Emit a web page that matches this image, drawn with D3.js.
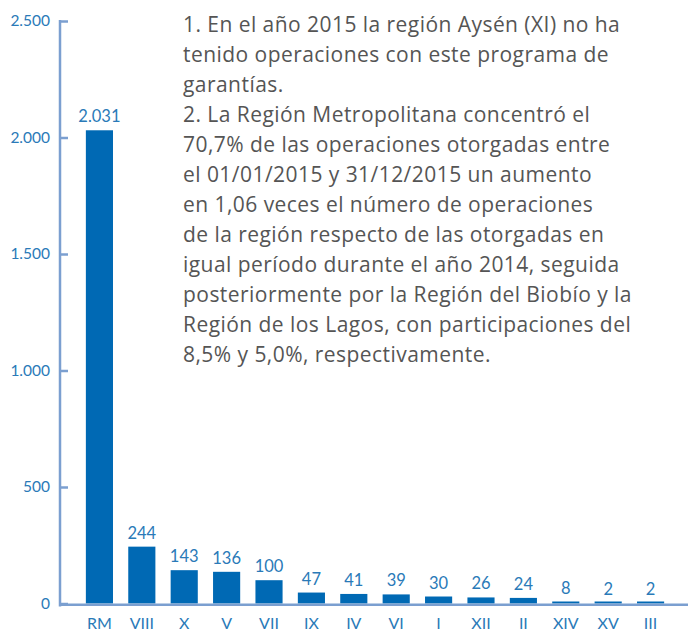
<!DOCTYPE html>
<html>
<head>
<meta charset="utf-8">
<script src="https://cdn.jsdelivr.net/npm/d3@7"></script>
<style>
  body { margin: 0; background: #fff; }
  svg { display: block; font-family: Lato, "Open Sans", sans-serif; }
</style>
</head>
<body>
<div id="chart"></div>
<script>
// Operaciones por región, 2015
const regions = ["RM", "VIII", "X", "V", "VII", "IX", "IV", "VI", "I", "XII", "II", "XIV", "XV", "III"];
const operations = [2031, 244, 143, 136, 100, 47, 41, 39, 30, 26, 24, 8, 2, 2];
const yTicks = [0, 500, 1000, 1500, 2000, 2500];
const noteLines = [
  "1. En el año 2015 la región Aysén (XI) no ha",
  "tenido operaciones con este programa de",
  "garantías.",
  "2. La Región Metropolitana concentró el",
  "70,7% de las operaciones otorgadas entre",
  "el 01/01/2015 y 31/12/2015 un aumento",
  "en 1,06 veces el número de operaciones",
  "de la región respecto de las otorgadas en",
  "igual período durante el año 2014, seguida",
  "posteriormente por la Región del Biobío y la",
  "Región de los Lagos, con participaciones del",
  "8,5% y 5,0%, respectivamente."
];

const width = 688, height = 633;
const barColor = "#0069b4";
const axisColor = "#7b9fd0";
const labelColor = "#2a7ab8";

const es = d3.formatLocale({ decimal: ",", thousands: ".", grouping: [3], currency: ["$", ""] });
const fmt = es.format(",d");

const svg = d3.select("#chart").append("svg")
  .attr("width", width)
  .attr("height", height);

const x0 = 60, yBase = 603.5, yTop = 21;

const x = d3.scaleBand()
  .domain(regions)
  .range([x0, 690])
  .paddingInner(0.36)
  .paddingOuter(0.61);

const y = d3.scaleLinear()
  .domain([0, 2500])
  .range([yBase, yTop]);

// y axis
const yAxis = svg.append("g")
  .attr("transform", `translate(${x0},0)`)
  .call(d3.axisRight(y).tickValues(yTicks).tickSize(8).tickFormat(""));
yAxis.select(".domain").remove();
yAxis.selectAll(".tick line")
  .attr("stroke", axisColor)
  .attr("stroke-width", 2.5);

svg.append("line")
  .attr("x1", x0).attr("x2", x0)
  .attr("y1", y(2500) - 1).attr("y2", yBase + 3)
  .attr("stroke", axisColor)
  .attr("stroke-width", 2.5);

svg.selectAll(".ylab")
  .data(yTicks)
  .join("text")
  .attr("class", "ylab")
  .attr("x", 50)
  .attr("y", d => y(d))
  .attr("dy", "0.35em")
  .attr("text-anchor", "end")
  .attr("fill", labelColor)
  .attr("font-size", 15.5)
  .text(d => fmt(d));

// bars (tiny values still get a visible sliver, as in the original)
svg.selectAll(".bar")
  .data(operations)
  .join("rect")
  .attr("class", "bar")
  .attr("x", (d, i) => x(regions[i]))
  .attr("width", x.bandwidth())
  .attr("y", d => Math.min(y(d), yBase - 2))
  .attr("height", d => Math.max(yBase - y(d), 2))
  .attr("fill", barColor);

// x axis line, just under the bars
svg.append("line")
  .attr("x1", x0).attr("x2", 688)
  .attr("y1", yBase + 1.3).attr("y2", yBase + 1.3)
  .attr("stroke", axisColor)
  .attr("stroke-width", 2.5);

// value labels
svg.selectAll(".val")
  .data(operations)
  .join("text")
  .attr("class", "val")
  .attr("x", (d, i) => x(regions[i]) + x.bandwidth() / 2)
  .attr("y", d => y(d) - 8)
  .attr("text-anchor", "middle")
  .attr("fill", labelColor)
  .attr("font-size", 16.5)
  .text(d => fmt(d));

// category labels
svg.selectAll(".cat")
  .data(regions)
  .join("text")
  .attr("class", "cat")
  .attr("x", d => x(d) + x.bandwidth() / 2)
  .attr("y", 629)
  .attr("text-anchor", "middle")
  .attr("fill", labelColor)
  .attr("font-size", 16)
  .text(d => d);

// note
svg.append("g")
  .selectAll("text")
  .data(noteLines)
  .join("text")
  .attr("x", 183)
  .attr("y", (d, i) => 31.5 + i * 30)
  .attr("fill", "#555")
  .attr("font-family", "'Open Sans', sans-serif")
  .attr("font-size", 21)
  .attr("letter-spacing", 0.45)
  .text(d => d);
</script>
</body>
</html>
